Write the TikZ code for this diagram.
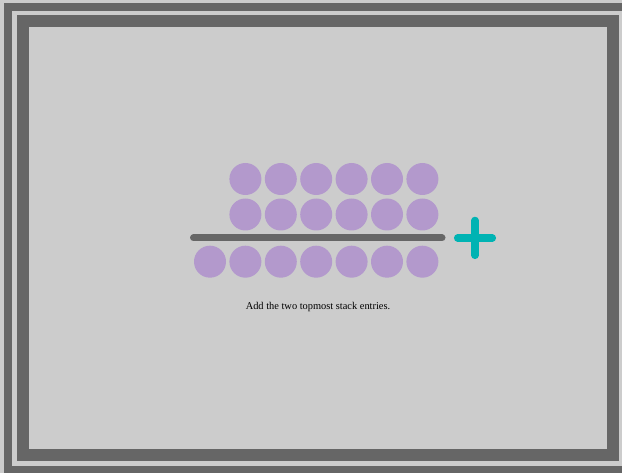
\documentclass[tikz,border=0pt]{standalone}
\usepackage{fontspec}
\setmainfont{Liberation Serif}
\definecolor{framegray}{HTML}{666666}
\definecolor{bggray}{HTML}{CCCCCC}
\definecolor{stackpurple}{HTML}{B399CC}
\definecolor{plusteal}{HTML}{00B3B3}

\begin{document}
\begin{tikzpicture}[
    x=1pt, y=-1pt,
    entry/.style={circle, fill=stackpurple, minimum size=32pt, inner sep=0pt},
    bar/.style={draw=framegray, line width=7pt, line cap=round},
    plus/.style={draw=plusteal, line width=7.5pt, line cap=round},
    caption/.style={font=\fontsize{10.4}{12}\selectfont, inner sep=0pt}
]
\useasboundingbox (0,0) rectangle (622,473);
\fill[bggray] (0,0) rectangle (622,473);

% Frames
\draw[framegray, line width=8pt] (8,7) rectangle (628,470);
\draw[framegray, line width=12pt] (23,21.5) rectangle (613,455);

% Stack: two top rows and the row below the bar
\foreach \k in {0,...,5} {
  \node[entry] (top\k) at ({245.4+35.4*\k},179) {};
  \node[entry] (next\k) at ({245.4+35.4*\k},214.5) {};
}
\foreach \k in {0,...,6} {
  \node[entry] (rest\k) at ({210+35.4*\k},261.7) {};
}

% Bar
\coordinate (barleft) at (193.5,238);
\coordinate (barright) at (442,238);
\draw[bar] (barleft) -- (barright);

% Plus sign
\coordinate (plusL) at (457.7,238);
\coordinate (plusR) at (492.3,238);
\coordinate (plusT) at (475,220.5);
\coordinate (plusB) at (475,255.3);
\draw[plus] (plusL) -- (plusR);
\draw[plus] (plusT) -- (plusB);

% Caption
\node[caption] (text) at (318,307) {Add the two topmost stack entries.};

\end{tikzpicture}
\end{document}
